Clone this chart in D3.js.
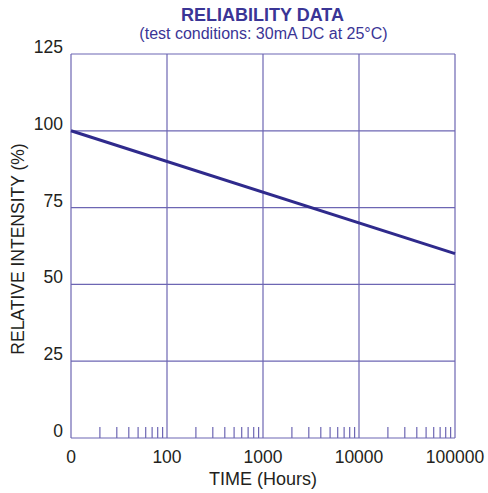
<!DOCTYPE html>
<html><head><meta charset="utf-8">
<script src="https://cdn.jsdelivr.net/npm/d3@7"></script>
<style>body{margin:0;background:#fff}svg{display:block}text{font-family:"Liberation Sans",Arial,sans-serif}</style>
</head><body><svg id="c" width="488" height="493"></svg>
<script>
const xTicks = [10, 100, 1000, 10000, 100000];
const xTickLabels = ["0", "100", "1000", "10000", "100000"];
const yTicks = [0, 25, 50, 75, 100, 125];
const seriesTime = [10, 100000];
const seriesIntensity = [100, 60];

const svg = d3.select("#c");
const m = {l:71, r:455, t:54, b:438};
const x = d3.scaleLog().domain([10, 100000]).range([m.l, m.r]);
const y = d3.scaleLinear().domain([0, 125]).range([m.b, m.t]);
const grid = "#6d66b3", dark = "#2f2a8c", txt = "#231f20";

// grid
svg.append("g").selectAll("line").data(yTicks).join("line")
  .attr("x1", m.l).attr("x2", m.r).attr("y1", d=>y(d)).attr("y2", d=>y(d))
  .attr("stroke", grid).attr("stroke-width", 1.2);
svg.append("g").selectAll("line").data(xTicks).join("line")
  .attr("y1", m.t).attr("y2", m.b).attr("x1", d=>x(d)).attr("x2", d=>x(d))
  .attr("stroke", grid).attr("stroke-width", 1.2);
// minor ticks
const minors = [];
for (let e=10; e<100000; e*=10) for (let k=2;k<=9;k++) minors.push(e*k);
svg.append("g").selectAll("line").data(minors).join("line")
  .attr("x1", d=>x(d)).attr("x2", d=>x(d)).attr("y1", m.b).attr("y2", m.b-11)
  .attr("stroke", grid).attr("stroke-width", 1.2);

// line
svg.append("path").datum(seriesTime.map((t,i)=>[t, seriesIntensity[i]]))
  .attr("d", d3.line().x(d=>x(d[0])).y(d=>y(d[1])))
  .attr("fill","none").attr("stroke", dark).attr("stroke-width", 3);

// labels
svg.append("g").selectAll("text").data(xTicks).join("text")
  .attr("x", d=>x(d)).attr("y", 463).attr("text-anchor","middle")
  .attr("font-size", 17.5).attr("fill", txt).text((d,i)=>xTickLabels[i]);
svg.append("g").selectAll("text").data(yTicks).join("text")
  .attr("x", 63).attr("y", d=>y(d)-1).attr("text-anchor","end")
  .attr("font-size", 17.5).attr("fill", txt).text(d=>d);
svg.append("text").attr("x", 263).attr("y", 485).attr("text-anchor","middle")
  .attr("font-size", 18).attr("fill", txt).text("TIME (Hours)");
svg.append("text").attr("transform","translate(24,249) rotate(-90)").attr("text-anchor","middle")
  .attr("font-size", 17.5).attr("fill", txt).text("RELATIVE INTENSITY (%)");
svg.append("text").attr("x", 262.5).attr("y", 21).attr("text-anchor","middle")
  .attr("font-size", 18).attr("font-weight","bold").attr("fill", "#3a3596").text("RELIABILITY DATA");
svg.append("text").attr("x", 263.5).attr("y", 38.5).attr("text-anchor","middle")
  .attr("font-size", 16).attr("fill", "#3a3596").text("(test conditions: 30mA DC at 25°C)");
</script></body></html>
